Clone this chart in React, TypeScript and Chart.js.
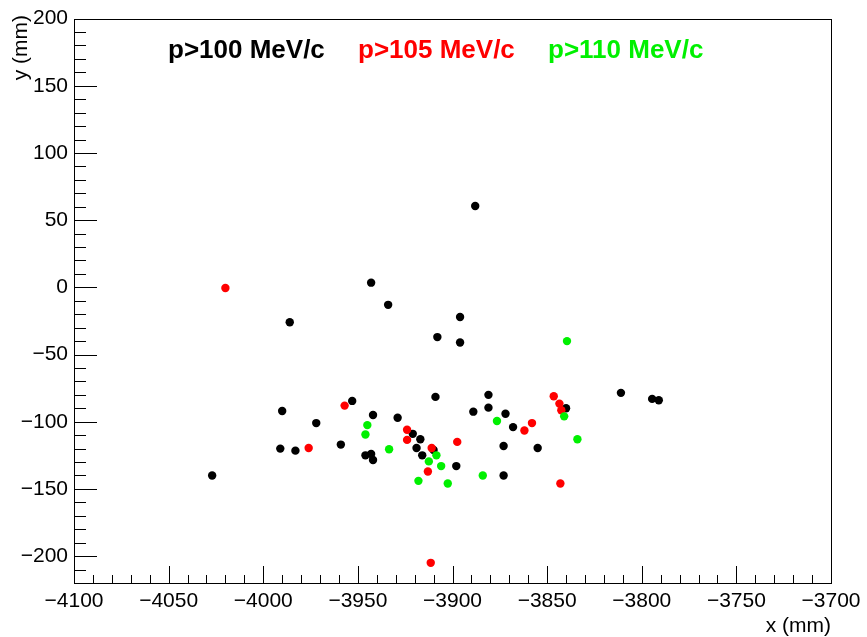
import React, { useEffect, useRef } from "react";
import { Chart, registerables } from "chart.js";

Chart.register(...registerables);

// p > 100 MeV/c (black)
const blackX = [-4027, -3986, -3990, -3991, -3983, -3972, -3959, -3953, -3943, -3934, -3942, -3929, -3946, -3943, -3942, -3921, -3917, -3919, -3910, -3916, -3898, -3909, -3908, -3896, -3896, -3888, -3889, -3881, -3881, -3872, -3868, -3873, -3873, -3855, -3840, -3811, -3794.5, -3791];
const blackY = [-140, -26, -92, -120, -121.5, -101, -117, -84.5, 3.5, -13, -95, -97, -125, -124, -128.5, -109, -113, -119.5, -121, -125, -133, -81.5, -37, -22, -41, 60.5, -92.5, -80, -89.5, -94, -104, -118, -140, -119.5, -90, -78.5, -83, -84];

// p > 105 MeV/c (red)
const redX = [-4020, -3976, -3957, -3924, -3924, -3911, -3913, -3911.5, -3897.5, -3862, -3858, -3846.5, -3843.5, -3842.5, -3843];
const redY = [-0.5, -119.5, -88, -106, -113.5, -119.5, -137, -205, -115, -106.5, -101, -81, -86.5, -91.5, -146];

// p > 110 MeV/c (green)
const greenX = [-3945, -3946, -3933.5, -3908.5, -3912.5, -3906, -3918, -3902.5, -3884, -3876.5, -3839.5, -3841, -3834];
const greenY = [-102.5, -109.5, -120.5, -125, -129.5, -133, -144, -146, -140, -99.5, -40, -96, -113];

const legendLabels = ["p>100 MeV/c", "p>105 MeV/c", "p>110 MeV/c"];
const seriesColors = ["#000000", "#ff0000", "#00f000"];
const xTitle = "x (mm)";
const yTitle = "y (mm)";

const X_MIN = -4100;
const X_MAX = -3700;
const Y_MIN = -220;
const Y_MAX = 200;

const FONT = "'Liberation Sans', Arial, Helvetica, sans-serif";

const toPoints = (xs: number[], ys: number[]) => xs.map((x, i) => ({ x, y: ys[i] }));
const fmt = (v: number) => String(v).replace("-", "\u2212");

const rootStyle = {
  id: "rootStyle",
  afterDraw(chart: any) {
    const { ctx, chartArea, scales } = chart;
    const { left, right, top, bottom } = chartArea;
    ctx.save();
    ctx.strokeStyle = "#000";
    ctx.lineWidth = 1;
    ctx.strokeRect(Math.round(left) + 0.5, Math.round(top) + 0.5, Math.round(right - left), Math.round(bottom - top));
    ctx.beginPath();
    for (let v = Y_MIN; v <= Y_MAX; v += 10) {
      const p = Math.round(scales.y.getPixelForValue(v)) + 0.5;
      const len = v % 50 === 0 ? 23 : 12;
      ctx.moveTo(left, p);
      ctx.lineTo(left + len, p);
    }
    for (let v = X_MIN; v <= X_MAX; v += 10) {
      const p = Math.round(scales.x.getPixelForValue(v)) + 0.5;
      const len = v % 50 === 0 ? 17 : 8;
      ctx.moveTo(p, bottom);
      ctx.lineTo(p, bottom - len);
    }
    ctx.stroke();

    // legend texts
    ctx.font = `bold 26px ${FONT}`;
    ctx.textBaseline = "alphabetic";
    ctx.textAlign = "left";
    const lx = [168, 358, 548];
    legendLabels.forEach((t, i) => {
      ctx.fillStyle = seriesColors[i];
      ctx.fillText(t, lx[i], 58);
    });

    // axis titles
    ctx.fillStyle = "#000";
    ctx.font = `21px ${FONT}`;
    ctx.textAlign = "right";
    ctx.textBaseline = "alphabetic";
    ctx.fillText(xTitle, right, 632);
    ctx.save();
    ctx.translate(27, 15);
    ctx.rotate(-Math.PI / 2);
    ctx.textAlign = "right";
    ctx.fillText(yTitle, 0, 0);
    ctx.restore();
    ctx.restore();
  },
};

export default function App() {
  const ref = useRef<HTMLCanvasElement | null>(null);
  useEffect(() => {
    if (!ref.current) return;
    const chart = new Chart(ref.current, {
      type: "scatter",
      data: {
        datasets: [
          { label: legendLabels[0], data: toPoints(blackX, blackY), backgroundColor: seriesColors[0], order: 2 },
          { label: legendLabels[1], data: toPoints(redX, redY), backgroundColor: seriesColors[1], order: 1 },
          { label: legendLabels[2], data: toPoints(greenX, greenY), backgroundColor: seriesColors[2], order: 0 },
        ].map((d) => ({ ...d, pointRadius: 4.2, pointHoverRadius: 4.2, borderWidth: 0, pointBorderWidth: 0 })),
      },
      options: {
        animation: false,
        responsive: false,
        devicePixelRatio: 1,
        layout: { padding: { top: 16, right: 36, bottom: 0, left: 0 } },
        plugins: { legend: { display: false }, tooltip: { enabled: false } },
        scales: {
          x: {
            type: "linear",
            min: X_MIN,
            max: X_MAX,
            grid: { display: false, drawTicks: false },
            border: { display: false },
            ticks: {
              stepSize: 50,
              color: "#000",
              padding: 6,
              maxRotation: 0,
              font: { family: FONT, size: 21 },
              callback: (v: any) => fmt(Number(v)),
            },
            afterFit: (s: any) => { s.height = 54; },
          },
          y: {
            type: "linear",
            min: Y_MIN,
            max: Y_MAX,
            grid: { display: false, drawTicks: false },
            border: { display: false },
            afterBuildTicks: (s: any) => { s.ticks = s.ticks.filter((t: any) => t.value % 50 === 0); },
            ticks: {
              stepSize: 50,
              color: "#000",
              padding: 6,
              font: { family: FONT, size: 21 },
              callback: (v: any) => fmt(Number(v)),
            },
            afterFit: (s: any) => { s.width = 74; },
          },
        },
      },
      plugins: [rootStyle],
    } as any);
    return () => chart.destroy();
  }, []);
  return (
    <div style={{ position: "absolute", left: 0, top: 0, width: 867, height: 637, background: "#fff" }}>
      <canvas ref={ref} width={867} height={637} style={{ display: "block" }} />
    </div>
  );
}
